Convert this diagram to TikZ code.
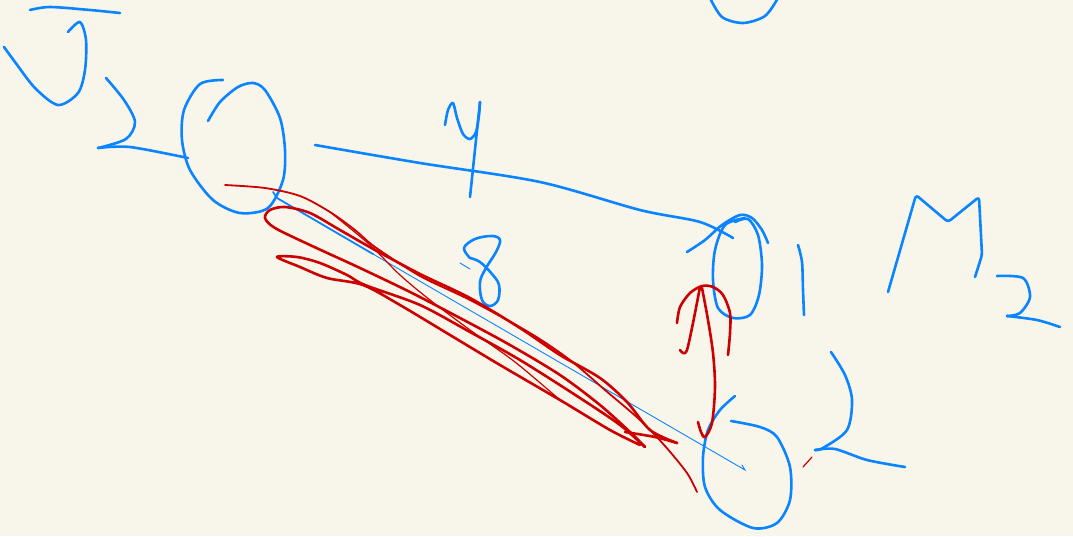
\documentclass[tikz,border=0pt]{standalone}
\usepackage{tikz}

\definecolor{paper}{HTML}{F8F6EB}
\definecolor{penblue}{HTML}{0A84FF}
\definecolor{penred}{HTML}{CC0000}

\begin{document}
\begin{tikzpicture}[x=1pt,y=-1pt,
  bluepen/.style={draw=penblue,line width=2.6pt,line cap=round,line join=round},
  redpen/.style={draw=penred,line width=2.6pt,line cap=round,line join=round},
  redthin/.style={draw=penred,line width=1.2pt,line cap=round},
  bluethin/.style={draw=penblue,line width=0.9pt,line cap=round}]

\fill[paper] (0,0) rectangle (1073,536);
\useasboundingbox (0,0) rectangle (1073,536);

% J_2
\path[bluepen] plot[smooth] coordinates {(30,10) (50,7) (90,10) (120,13)};
\path[bluepen] plot[smooth] coordinates {(68,32) (80,22) (86,40) (85,70) (78,93) (58,105) (35,88) (15,62) (4,47)};
\path[bluepen] plot[smooth] coordinates {(106,78) (124,100) (135,122) (126,139) (98,148)};
\path[bluepen] plot[smooth] coordinates {(98,148) (130,147) (188,158)};

% left circle
\path[bluepen] plot[smooth] coordinates {(223,80) (200,84) (184,110) (182,140) (190,170) (213,200)
  (240,213) (268,208) (283,180) (285,150) (280,118) (265,90) (253,83) (238,87) (220,102) (208,121)};

% circle cut at the top
\path[bluepen] plot[smooth] coordinates {(710,-2) (722,17) (743,23) (765,16) (778,-2)};

% line y
\path[bluepen] plot[smooth] coordinates {(315,145) (420,163) (540,182) (640,210) (700,222) (733,238)};
\path[bluepen] plot[smooth] coordinates {(445,125) (448,110) (453,103) (457,118) (463,134) (470,139) (476,132) (479,115) (480,102)};
\path[bluepen] (480,102) -- (470,197);

% right circle, 1
\path[bluepen] plot[smooth] coordinates {(687,252) (705,240) (722,225) (740,215) (752,218) (762,230) (768,243)};
\path[bluepen] plot[smooth] coordinates {(745,218) (725,225) (715,250) (713,280) (718,308) (733,318)
  (750,315) (759,295) (762,265) (758,235) (748,219) (735,222)};
\path[bluepen] plot[smooth] coordinates {(798,245) (802,262) (803,290) (804,315)};

% M_2
\path[bluepen,rounded corners=3pt] (888,292) -- (916,195) -- (948,222) -- (979,197) -- (982,255) -- (975,277);
\path[bluepen] plot[smooth] coordinates {(997,276) (1023,278) (1030,297) (1020,313) (1007,316)};
\path[bluepen] plot[smooth] coordinates {(1007,316) (1037,320) (1060,327)};

% lower circle, 2
\path[bluepen] plot[smooth] coordinates {(735,396) (720,410) (708,430) (703,457) (705,487) (720,510)
  (753,528) (777,523) (790,500) (790,467) (777,437) (760,427) (731,421)};
\path[bluepen] plot[smooth] coordinates {(831,352) (845,375) (852,400) (847,430) (823,448) (815,450)};
\path[bluepen] plot[smooth] coordinates {(815,450) (835,449) (867,460) (905,467)};
\path[redthin] (803,467) -- (812,457);

% diagonal
\path[bluepen,line width=1.8pt] (273,192) -- (277,198) -- (373,254);
\path[bluethin] (373,254) -- (745,470) -- (742,465);

% 8
\path[bluepen] plot[smooth,tension=0.6] coordinates {(470,258) (464,248) (475,239) (492,236) (500,240)
  (496,252) (486,268) (480,282) (482,300) (490,306) (498,300) (499,285) (492,274) (480,262) (470,258)};
\path[bluethin] (460,263) -- (470,269);

% red strokes
\path[redpen,line width=1.8pt] plot[smooth] coordinates {(225,185) (265,188) (300,196) (330,212) (355,230)
  (375,247) (420,276) (470,300) (530,333) (570,360) (605,390) (640,420) (665,446) (687,473) (697,492)};
\path[redthin] plot[smooth] coordinates {(330,212) (370,245) (400,275) (430,300) (470,330) (515,362) (560,400)};
\path[redpen] plot[smooth] coordinates {(677,443) (650,430) (627,402) (600,378) (560,355) (520,328)
  (470,298) (420,274) (375,250) (340,230) (310,213) (285,207) (270,210) (265,218) (275,228)
  (310,245) (360,268) (410,292) (460,318) (510,345) (560,375) (600,405) (630,432) (645,447)};
\path[redpen] plot[smooth] coordinates {(640,445) (610,430) (560,400) (500,365) (450,335) (400,305)
  (363,285) (327,278) (300,267) (277,257) (297,257) (320,263) (347,275) (365,285) (420,305)
  (470,332) (520,360) (580,398) (620,425) (645,447)};
\path[redpen] plot[smooth] coordinates {(625,432) (655,437) (677,443)};

% red arrow
\path[redpen] plot[smooth] coordinates {(698,422) (701,432) (705,437) (712,423) (715,387) (713,353) (708,320) (702,288)};
\path[redpen] plot[smooth] coordinates {(680,350) (683,353) (687,350) (693,323) (700,287)};
\path[redpen] plot[smooth] coordinates {(677,323) (680,307) (690,293) (702,286) (713,287) (723,295)
  (730,313) (730,333) (728,355)};

\end{tikzpicture}
\end{document}
